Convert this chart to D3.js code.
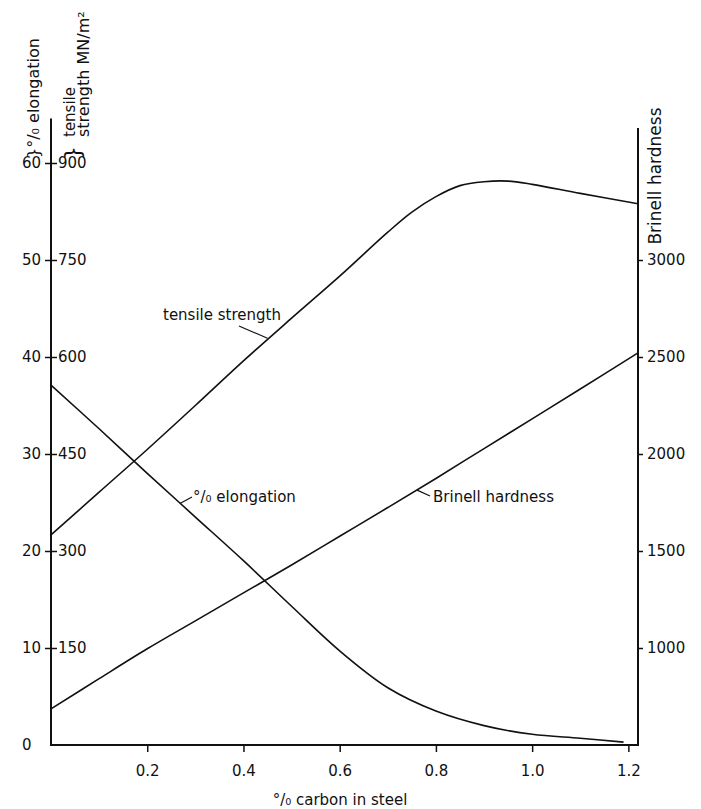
<!DOCTYPE html>
<html>
<head>
<meta charset="utf-8">
<script src="https://cdn.jsdelivr.net/npm/d3@7"></script>
<style>
  body { margin: 0; background: #fff; }
  svg { display: block; }
  text { font-family: "DejaVu Sans", sans-serif; fill: #111; }
</style>
</head>
<body>
<svg width="701" height="809"></svg>
<script>
let svg = d3.select("svg");

// tensile strength, MN/m2 vs % carbon
let tensileCarbon = [0, 0.1, 0.2, 0.3, 0.4, 0.5, 0.6, 0.7, 0.75, 0.8, 0.85, 0.9, 0.95, 1.0, 1.1, 1.22];
let tensileMN = [325, 391, 457, 525, 594, 660, 725, 793, 824, 848, 865, 871, 872, 867, 853, 837];

// % elongation vs % carbon
let elongCarbon = [0, 0.1, 0.2, 0.3, 0.4, 0.5, 0.6, 0.7, 0.8, 0.9, 1.0, 1.1, 1.19];
let elongPct = [37.1, 32.6, 28.0, 23.5, 19.0, 14.3, 9.7, 5.9, 3.5, 2.0, 1.1, 0.7, 0.3];

// Brinell hardness vs % carbon
let brinellCarbon = [0, 0.1, 0.2, 0.3, 0.4, 0.5, 0.6, 0.7, 0.8, 0.9, 1.0, 1.1, 1.22];
let brinellHB = [686, 842, 996, 1140, 1284, 1428, 1576, 1724, 1874, 2028, 2181, 2335, 2521];

// tick labels
let xTicks = [0.2, 0.4, 0.6, 0.8, 1.0, 1.2];
let elongTicks = [0, 10, 20, 30, 40, 50, 60];
let tensileTicks = [150, 300, 450, 600, 750, 900];
let brinellTicks = [1000, 1500, 2000, 2500, 3000];

let x = d3.scaleLinear().domain([0, 1.22]).range([51, 638]);
let yPct = d3.scaleLinear().domain([0, 60]).range([745, 163]);
let yTen = d3.scaleLinear().domain([0, 900]).range([745, 163]);
let yHB = d3.scaleLinear().domain([500, 3500]).range([745, 163]);

//Axis lines drawn by hand so they can run past the last tick
let axisG = svg.append("g").attr("stroke", "#111").attr("stroke-width", 2).attr("fill", "none");
axisG.append("line").attr("x1", x(0)).attr("x2", x(0)).attr("y1", yPct(64.6)).attr("y2", yPct(0) + 1);
axisG.append("line").attr("x1", x(1.22)).attr("x2", x(1.22)).attr("y1", yPct(63.6)).attr("y2", yPct(0) + 1);
axisG.append("line").attr("x1", x(0) - 1).attr("x2", x(1.22) + 1).attr("y1", yPct(0)).attr("y2", yPct(0));

function styleAxis(g){
    g.select(".domain").remove();
    g.selectAll(".tick line").attr("stroke", "#111").attr("stroke-width", 1.5);
    g.selectAll("text").attr("font-family", "DejaVu Sans").attr("font-size", 15).attr("fill", "#111");
}

// left: % elongation (ticks out to the left)
svg.append("g")
    .attr("transform", "translate(" + x(0) + ",0)")
    .call(d3.axisLeft(yPct).tickValues(elongTicks).tickSize(6).tickFormat(d3.format("d")))
    .call(styleAxis)
    .call(g => g.selectAll(".tick line").filter(d => d === 0).remove())
    .call(g => g.selectAll("text").attr("text-anchor", "start").attr("x", 22 - x(0)));

// left: tensile strength (ticks to the right)
svg.append("g")
    .attr("transform", "translate(" + x(0) + ",0)")
    .call(d3.axisRight(yTen).tickValues(tensileTicks).tickSize(6).tickPadding(1).tickFormat(d3.format("d")))
    .call(styleAxis);

// right: Brinell hardness
svg.append("g")
    .attr("transform", "translate(" + x(1.22) + ",0)")
    .call(d3.axisRight(yHB).tickValues(brinellTicks).tickSize(5).tickPadding(4).tickFormat(d3.format("d")))
    .call(styleAxis);

// bottom: % carbon
svg.append("g")
    .attr("transform", "translate(0," + yPct(0) + ")")
    .call(d3.axisBottom(x).tickValues(xTicks).tickSize(7).tickPadding(13).tickFormat(d3.format(".1f")))
    .call(styleAxis);

// curves
function curve(cs, vs, yScale){
    let line = d3.line()
        .x(d => x(d[0]))
        .y(d => yScale(d[1]))
        .curve(d3.curveCatmullRom.alpha(0.5));
    svg.append("path")
        .datum(d3.zip(cs, vs))
        .attr("d", line)
        .attr("fill", "none")
        .attr("stroke", "#111")
        .attr("stroke-width", 1.6);
}
curve(tensileCarbon, tensileMN, yTen);
curve(elongCarbon, elongPct, yPct);
curve(brinellCarbon, brinellHB, yHB);

// curve labels with short leaders
let lab = svg.append("g");
lab.append("line").attr("x1", x(0.45)).attr("y1", yTen(629)).attr("x2", 239).attr("y2", 326)
    .attr("stroke", "#111").attr("stroke-width", 1.2);
lab.append("text").attr("x", 163).attr("y", 320).attr("font-size", 15).text("tensile strength");

lab.append("line").attr("x1", x(0.268)).attr("y1", yPct(24.9)).attr("x2", 192).attr("y2", 497)
    .attr("stroke", "#111").attr("stroke-width", 1.2);
lab.append("text").attr("x", 193).attr("y", 502).attr("font-size", 15).text("°/₀ elongation");

lab.append("line").attr("x1", x(0.761)).attr("y1", yHB(1814)).attr("x2", 430).attr("y2", 496)
    .attr("stroke", "#111").attr("stroke-width", 1.2);
lab.append("text").attr("x", 433).attr("y", 502).attr("font-size", 15).text("Brinell hardness");

// axis titles
svg.append("text").attr("transform", "translate(39,158) rotate(-90)")
    .attr("font-size", 16).text("}°/₀ elongation");
svg.append("text").attr("transform", "translate(80,160) rotate(-90)")
    .attr("font-size", 22).text("}");
svg.append("text").attr("transform", "translate(75,137) rotate(-90)")
    .attr("font-size", 15).text("tensile");
svg.append("text").attr("transform", "translate(89,137) rotate(-90)")
    .attr("font-size", 16).text("strength MN/m²");
svg.append("text").attr("transform", "translate(661,176) rotate(-90)")
    .attr("text-anchor", "middle").attr("font-size", 17).text("Brinell hardness");
svg.append("text").attr("x", 340).attr("y", 805)
    .attr("text-anchor", "middle").attr("font-size", 15).text("°/₀ carbon in steel");
</script>
</body>
</html>
